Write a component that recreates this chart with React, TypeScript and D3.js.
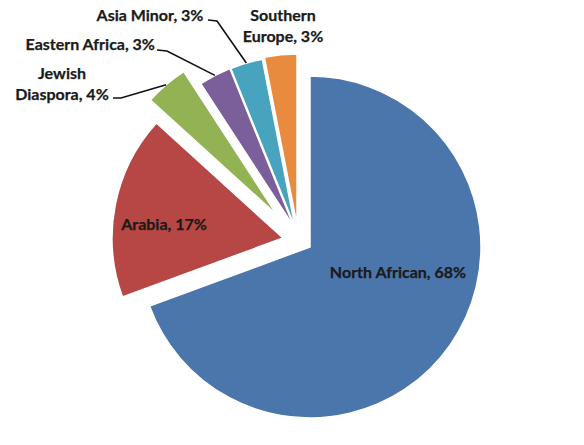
import { useEffect } from "react";
import * as d3 from "d3";

const categories = [
  "North African",
  "Arabia",
  "Jewish Diaspora",
  "Eastern Africa",
  "Asia Minor",
  "Southern Europe",
];
const shares = [68, 17, 4, 3, 3, 3];
// label text as shown, broken into lines
const labelLines = [
  ["North African, 68%"],
  ["Arabia, 17%"],
  ["Jewish", "Diaspora, 4%"],
  ["Eastern Africa, 3%"],
  ["Asia Minor, 3%"],
  ["Southern", "Europe, 3%"],
];

const colors = ["#4a76ab", "#b64745", "#93b254", "#7a5f9a", "#48a3bf", "#e98b3f"];

// exploded offsets of each slice (px)
const shifts: [number, number][] = [
  [0, 0],
  [-27, -9],
  [-33, -32],
  [-16, -20],
  [-15, -20],
  [-13, -22],
];

// manual label placement, as in the original chart
type LabelPos = {
  x: number;
  y: number;
  anchor: "start" | "middle" | "end";
  elbow?: [number, number];
  end?: [number, number];
};
const labelPos: LabelPos[] = [
  { x: 398, y: 272, anchor: "middle" },
  { x: 164, y: 224, anchor: "middle" },
  { x: 62, y: 73, anchor: "middle", elbow: [121, 98], end: [113, 98] },
  { x: 155, y: 44, anchor: "end", elbow: [167, 51], end: [157, 50] },
  { x: 150, y: 15, anchor: "middle", elbow: [217, 21], end: [208, 20] },
  { x: 283, y: 15, anchor: "middle" },
];

const W = 584;
const H = 445;
const cx = 310;
const cy = 247;
const R = 171;
const lineH = 21;

export default function App() {
  useEffect(() => {
    document.body.style.margin = "0";
  }, []);

  const pie = d3
    .pie<number>()
    .sort(null)
    .startAngle(0)
    .endAngle(2 * Math.PI)
    .value((d) => d);
  const arcs = pie(shares);
  const arc = d3.arc<d3.PieArcDatum<number>>().innerRadius(0).outerRadius(R);
  const rim = d3.arc<d3.PieArcDatum<number>>().innerRadius(R).outerRadius(R);

  return (
    <svg width={W} height={H} style={{ display: "block", background: "#fff" }}>
      <g transform={`translate(${cx},${cy})`}>
        {arcs.map((a, i) => (
          <path
            key={categories[i]}
            d={arc(a) ?? ""}
            transform={`translate(${shifts[i][0]},${shifts[i][1]})`}
            fill={colors[i]}
            stroke="#fff"
            strokeWidth={1.5}
            strokeLinejoin="round"
          />
        ))}
      </g>
      {arcs.map((a, i) => {
        const p = labelPos[i];
        if (!p.elbow || !p.end) return null;
        const [ax, ay] = rim.centroid(a);
        const sx = cx + shifts[i][0] + ax;
        const sy = cy + shifts[i][1] + ay;
        return (
          <path
            key={"l" + i}
            d={d3.line()([[sx, sy], p.elbow, p.end]) ?? ""}
            fill="none"
            stroke="#111"
            strokeWidth={1.6}
          />
        );
      })}
      {labelLines.map((lines, i) => {
        const p = labelPos[i];
        return (
          <text
            key={"t" + i}
            x={p.x}
            y={p.y}
            textAnchor={p.anchor}
            fontFamily="Lato, 'Open Sans', sans-serif"
            fontWeight={700}
            fontSize={16}
            fill="#1a1a1a"
            stroke="#1a1a1a"
            strokeWidth={0.25}
          >
            {lines.map((ln, j) => (
              <tspan key={j} x={p.x} y={p.y + j * lineH} dy="0.36em">
                {ln}
              </tspan>
            ))}
          </text>
        );
      })}
    </svg>
  );
}
